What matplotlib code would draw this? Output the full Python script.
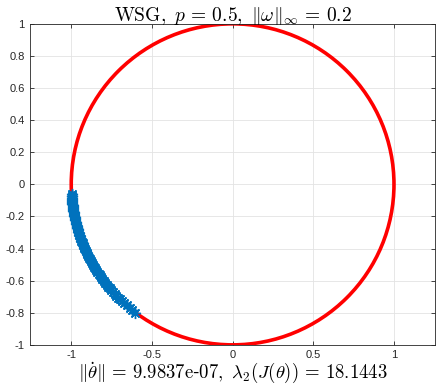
import numpy as np
import matplotlib
matplotlib.use("Agg")
import matplotlib.pyplot as plt
from matplotlib.patches import Circle
from matplotlib.ticker import FuncFormatter

# --- data: oscillator phases (degrees) sitting on the unit circle ---
phase_deg = [183.5, 184.0, 184.3, 184.8, 185.1, 185.5, 185.9, 186.2, 186.6, 187.0,
             187.3, 187.7, 188.1, 188.4, 188.9, 189.3, 189.6, 190.0, 190.4, 190.9,
             191.3, 191.7, 192.2, 192.6, 193.0, 193.5, 194.0, 194.4, 194.9, 195.3,
             195.8, 196.3, 196.7, 197.2, 197.8, 198.3, 198.8, 199.4, 199.9, 200.5,
             201.0, 201.6, 202.2, 202.8, 203.3, 203.9, 204.6, 205.2, 205.9, 206.5,
             207.2, 207.9, 208.6, 209.3, 210.1, 210.8, 211.6, 212.3, 213.1, 213.9,
             214.6, 215.4, 216.2, 217.0, 217.9, 218.7, 219.6, 220.4, 221.3, 222.1,
             223.0, 223.9, 224.9, 225.8, 226.8, 227.9, 229.0, 230.3, 231.5, 233.0]
x_ticks = [-1, -0.5, 0, 0.5, 1]
y_ticks = [-1, -0.8, -0.6, -0.4, -0.2, 0, 0.2, 0.4, 0.6, 0.8, 1]
title_txt = r"$\mathrm{WSG},\ p\,=\,0.5,\ \|\omega\|_\infty\,=\,0.2$"
xlabel_txt = (r"$\|\dot{\theta}\|\,=\,9.9837\mathrm{e}$-$07,\ "
              r"\lambda_2(J(\theta))\,=\,18.1443$")

plt.rcParams["mathtext.fontset"] = "cm"
plt.rcParams["font.family"] = ["Liberation Sans", "DejaVu Sans"]
plt.rcParams["axes.unicode_minus"] = False

th = np.deg2rad(phase_deg)

fig = plt.figure(figsize=(4.36, 3.91), dpi=100)
ax = fig.add_axes([0.069, 0.118, 0.929, 0.821])

ax.add_patch(Circle((0, 0), 1, fill=False, color="#ff0000", lw=2.6, zorder=2))
ax.plot(np.cos(th), np.sin(th), ls="none", marker=(8, 2, 0), ms=8, mew=1.0,
        color="#0072bd", zorder=3)

ax.set_xlim(-1.255, 1.255)
ax.set_ylim(-1, 1)
ax.set_xticks(x_ticks)
ax.set_yticks(y_ticks)
fmt = FuncFormatter(lambda v, p: "%g" % round(v, 2))
ax.xaxis.set_major_formatter(fmt)
ax.yaxis.set_major_formatter(fmt)
ax.tick_params(direction="in", length=3, width=0.6, labelsize=8, colors="#262626",
               top=True, right=True, pad=4)
ax.grid(True, color="#e3e3e3", lw=0.6)
ax.set_axisbelow(True)
for s in ax.spines.values():
    s.set_linewidth(0.6)
    s.set_color("#262626")

ax.set_title(title_txt, fontsize=14, pad=2)
ax.set_xlabel(xlabel_txt, fontsize=13.5, labelpad=0)

fig.savefig("out.png", dpi=100)
